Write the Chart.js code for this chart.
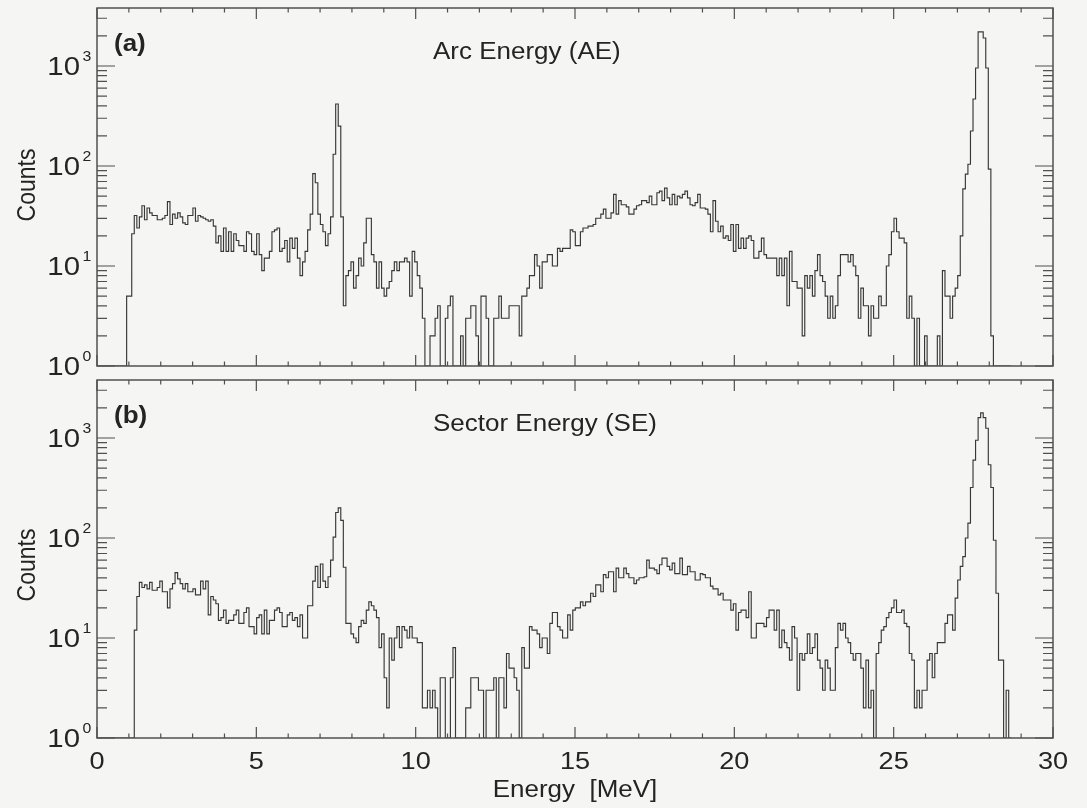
<!DOCTYPE html>
<html>
<head>
<meta charset="utf-8">
<title>AE / SE energy spectra</title>
<script src="https://cdn.jsdelivr.net/npm/chart.js@4.4.0/dist/chart.umd.min.js"></script>
<style>
  html, body { margin: 0; padding: 0; background: #f5f5f3; }
  #figure { position: relative; width: 1087px; height: 808px; overflow: hidden; }
  #figure canvas { position: absolute; left: 0; }
  #chartA { top: 0; }
  #chartB { top: 372px; }
</style>
</head>
<body>
<div id="figure">
  <canvas id="chartA" width="1087" height="390"></canvas>
  <canvas id="chartB" width="1087" height="436"></canvas>
</div>
<script>
// Histogram binning shared by both spectra (MeV)
const BIN_START = 0.05;
const BIN_WIDTH = 0.08;
const Y_MAX = 3800;

// Arc energy (AE) counts per bin, 10 bins per row
const arcCounts = [
  0, 0, 0, 0, 0, 0, 0, 0, 0, 0,
  0, 5, 5, 21, 32, 24, 31, 40, 29, 38,
  34, 32, 32, 29, 29, 30, 32, 44, 26, 33,
  30, 34, 31, 27, 26, 32, 32, 38, 28, 32,
  31, 30, 29, 28, 29, 25, 17, 20, 14, 24,
  14, 22, 14, 21, 18, 16, 16, 14, 22, 21,
  14, 13, 21, 13, 9, 12, 12, 14, 22, 23,
  24, 14, 15, 18, 11, 19, 15, 19, 12, 8,
  11, 14, 23, 33, 84, 68, 33, 26, 22, 16,
  21, 31, 131, 417, 250, 31, 4, 8, 9, 11,
  6, 8, 12, 10, 17, 30, 30, 13, 11, 6,
  11, 6, 5, 6, 7, 9, 11, 9, 11, 11,
  12, 11, 5, 14, 11, 8, 6, 3, 0, 0,
  2, 2, 3, 4, 0, 0, 3, 4, 5, 0,
  0, 0, 2, 0, 3, 3, 4, 4, 2, 0,
  5, 5, 3, 0, 0, 3, 3, 5, 3, 3,
  3, 4, 4, 4, 4, 2, 5, 5, 6, 8,
  8, 13, 10, 6, 11, 11, 13, 13, 10, 10,
  15, 14, 15, 15, 15, 23, 22, 16, 16, 22,
  24, 24, 25, 25, 26, 30, 30, 33, 37, 30,
  30, 34, 52, 33, 45, 41, 41, 39, 33, 33,
  37, 40, 41, 45, 45, 43, 50, 41, 41, 54,
  56, 45, 60, 48, 41, 52, 41, 50, 48, 52,
  56, 48, 41, 40, 43, 52, 38, 38, 37, 33,
  22, 45, 28, 22, 25, 19, 20, 18, 26, 14,
  26, 15, 19, 15, 19, 20, 18, 12, 12, 14,
  19, 13, 12, 12, 12, 12, 8, 12, 8, 12,
  4, 14, 7, 7, 6, 6, 2, 8, 6, 8,
  5, 9, 13, 8, 7, 5, 3, 5, 3, 4,
  8, 13, 13, 13, 11, 13, 10, 8, 3, 6,
  4, 4, 2, 4, 3, 3, 5, 4, 4, 10,
  13, 22, 30, 22, 19, 19, 17, 3, 5, 3,
  0, 3, 0, 0, 2, 0, 0, 0, 0, 2,
  0, 9, 5, 5, 3, 5, 6, 8, 20, 59,
  83, 104, 224, 468, 955, 2190, 2190, 1905, 955, 93,
  2, 0, 0, 0, 0, 0, 0, 0
];

// Sector energy (SE) counts per bin, same binning
const sectorCounts = [
  0, 0, 0, 0, 0, 0, 0, 0, 0, 0,
  0, 0, 0, 0, 12, 26, 36, 32, 34, 31,
  36, 30, 30, 32, 37, 29, 29, 20, 31, 35,
  45, 39, 35, 31, 35, 29, 29, 31, 27, 27,
  37, 31, 37, 17, 26, 24, 22, 15, 16, 19,
  14, 15, 15, 17, 19, 14, 14, 18, 20, 13,
  13, 11, 16, 17, 11, 19, 11, 15, 15, 19,
  20, 18, 13, 13, 17, 18, 15, 16, 13, 17,
  10, 10, 21, 21, 37, 52, 32, 55, 37, 32,
  41, 60, 102, 180, 200, 150, 51, 14, 14, 11,
  10, 9, 13, 15, 14, 19, 23, 21, 19, 16,
  8, 11, 4, 2, 10, 6, 10, 13, 8, 13,
  12, 10, 13, 10, 10, 9, 9, 2, 2, 3,
  2, 3, 2, 0, 4, 4, 0, 0, 4, 8,
  0, 0, 0, 0, 2, 2, 4, 4, 4, 3,
  3, 0, 3, 3, 3, 4, 0, 4, 4, 2,
  7, 5, 5, 4, 3, 0, 8, 5, 5, 13,
  12, 12, 11, 8, 10, 10, 7, 14, 18, 18,
  13, 12, 10, 10, 17, 12, 19, 20, 20, 23,
  21, 23, 23, 28, 26, 34, 34, 29, 43, 40,
  46, 46, 29, 50, 40, 40, 50, 44, 40, 40,
  35, 38, 40, 40, 41, 60, 50, 50, 48, 44,
  54, 63, 63, 52, 48, 56, 44, 44, 63, 43,
  43, 52, 46, 46, 38, 38, 44, 43, 40, 40,
  33, 31, 31, 27, 28, 24, 24, 24, 19, 22,
  12, 18, 19, 19, 16, 29, 10, 10, 14, 14,
  14, 13, 16, 19, 19, 12, 19, 8, 12, 9,
  8, 6, 13, 10, 3, 7, 6, 7, 11, 7,
  8, 11, 6, 5, 3, 6, 5, 3, 3, 8,
  14, 12, 14, 10, 9, 7, 6, 7, 7, 5,
  2, 6, 2, 3, 0, 7, 9, 12, 13, 16,
  18, 20, 24, 18, 18, 19, 14, 13, 7, 6,
  2, 3, 2, 3, 3, 6, 7, 4, 7, 9,
  9, 9, 14, 17, 17, 12, 25, 38, 52, 65,
  100, 141, 320, 600, 950, 1600, 1780, 1600, 1250, 540,
  320, 95, 28, 6, 6, 0, 3, 0
];

const xTickLabels = [0, 5, 10, 15, 20, 25, 30];
const yDecades = [0, 1, 2, 3];

const FONT = '"Liberation Sans", Arial, Helvetica, sans-serif';
const INK = '#242424';
const FRAME = '#505050';
// lettering in this figure runs wide: glyphs are stretched sideways
const TEXT_STRETCH = 1.13;

// Step outline: one point per left bin edge, closing point at the last right edge.
// Empty bins sit on the axis (log scale has no zero).
function histPoints(counts) {
  const pts = counts.map((c, i) => ({ x: BIN_START + i * BIN_WIDTH, y: Math.max(c, 1) }));
  pts.push({ x: BIN_START + counts.length * BIN_WIDTH, y: 1 });
  return pts;
}

function wideText(ctx, text, x, y, font, align) {
  ctx.save();
  ctx.translate(x, y);
  ctx.scale(TEXT_STRETCH, 1);
  ctx.font = font;
  ctx.textAlign = align;
  ctx.fillText(text, 0, 0);
  ctx.restore();
}

// Boxed frame with inward ticks on all four sides, plus the panel texts
const frameAxes = {
  id: 'frameAxes',
  afterDatasetsDraw(chart, args, opts) {
    const { ctx, chartArea: a } = chart;
    const xs = chart.scales.x;
    const ys = chart.scales.y;
    ctx.save();

    ctx.strokeStyle = FRAME;
    ctx.lineWidth = 1.5;
    ctx.strokeRect(a.left, a.top, a.right - a.left, a.bottom - a.top);

    ctx.lineWidth = 1.2;
    ctx.beginPath();
    for (let v = 0; v <= 30; v++) {
      const px = xs.getPixelForValue(v);
      const len = v % 5 === 0 ? 11 : 4.5;
      ctx.moveTo(px, a.bottom);
      ctx.lineTo(px, a.bottom - len);
      ctx.moveTo(px, a.top);
      ctx.lineTo(px, a.top + len);
    }
    for (const d of yDecades) {
      for (let m = 1; m <= 9; m++) {
        const v = m * Math.pow(10, d);
        if (v >= ys.max) break;
        const py = ys.getPixelForValue(v);
        const len = m === 1 ? 18 : 10;
        ctx.moveTo(a.left, py);
        ctx.lineTo(a.left + len, py);
        ctx.moveTo(a.right, py);
        ctx.lineTo(a.right - len, py);
      }
    }
    ctx.stroke();

    ctx.fillStyle = INK;
    ctx.textBaseline = 'middle';

    // 10^n labels
    for (const d of yDecades) {
      const py = ys.getPixelForValue(Math.pow(10, d));
      wideText(ctx, '10', 80, py + 2, '26px ' + FONT, 'right');
      wideText(ctx, String(d), 82.5, py - 9, '14px ' + FONT, 'left');
    }

    // panel tag and title
    wideText(ctx, opts.tag, a.left + 17, a.top + 37, 'bold 23px ' + FONT, 'left');
    wideText(ctx, opts.title, 433, a.top + 45, '23px ' + FONT, 'left');

    // y title: rotated, so the sideways stretch widens the glyph height
    ctx.save();
    ctx.translate(28, (a.top + a.bottom) / 2 + opts.countsShift);
    ctx.scale(TEXT_STRETCH, 1);
    ctx.rotate(-Math.PI / 2);
    ctx.textAlign = 'center';
    ctx.font = '23px ' + FONT;
    ctx.fillText('Counts', 0, 0);
    ctx.restore();

    if (opts.xLabels) {
      for (const t of xTickLabels) {
        wideText(ctx, String(t), xs.getPixelForValue(t), a.bottom + 24, '24px ' + FONT, 'center');
      }
      wideText(ctx, 'Energy  [MeV]', (a.left + a.right) / 2, a.bottom + 53, '23px ' + FONT, 'center');
    }
    ctx.restore();
  }
};

function makePanel(canvasId, counts, panel) {
  return new Chart(document.getElementById(canvasId), {
    type: 'line',
    data: {
      datasets: [{
        data: histPoints(counts),
        stepped: true,
        borderColor: '#383838',
        borderWidth: 1.15,
        pointRadius: 0,
        fill: false,
        tension: 0
      }]
    },
    options: {
      responsive: false,
      animation: false,
      events: [],
      layout: { padding: panel.padding },
      plugins: {
        legend: { display: false },
        tooltip: { enabled: false },
        frameAxes: panel
      },
      scales: {
        x: { type: 'linear', min: 0, max: 30, display: false },
        y: { type: 'logarithmic', min: 1, max: Y_MAX, display: false }
      }
    },
    plugins: [frameAxes]
  });
}

makePanel('chartA', arcCounts, {
  tag: '(a)',
  title: 'Arc Energy (AE)',
  countsShift: -2,
  xLabels: false,
  padding: { left: 97, right: 34, top: 8, bottom: 24 }
});

makePanel('chartB', sectorCounts, {
  tag: '(b)',
  title: 'Sector Energy (SE)',
  countsShift: 6,
  xLabels: true,
  padding: { left: 97, right: 34, top: 8, bottom: 70 }
});
</script>
</body>
</html>
